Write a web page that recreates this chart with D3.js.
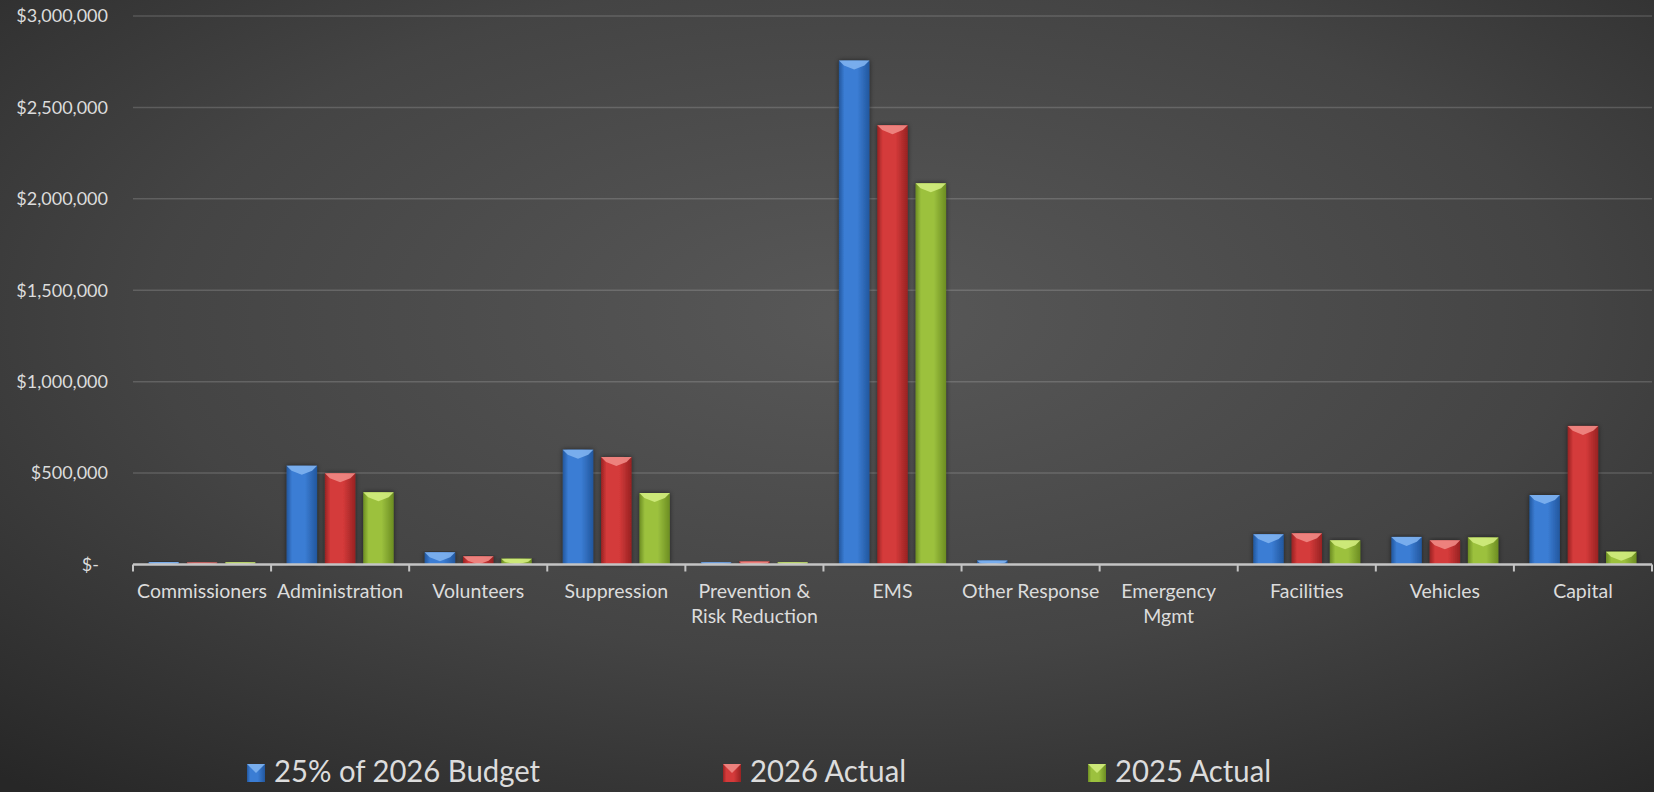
<!DOCTYPE html>
<html>
<head>
<meta charset="utf-8">
<script src="https://cdn.jsdelivr.net/npm/d3@7"></script>
<style>
  html, body { margin: 0; padding: 0; background: #2c2c2c; }
  svg { display: block; }
  text { font-family: Lato, "Open Sans", sans-serif; fill: #dcdcdc; }
</style>
</head>
<body>
<div id="chart"></div>
<script>
// chart data
const categories = ["Commissioners", "Administration", "Volunteers", "Suppression",
  "Prevention &\nRisk Reduction", "EMS", "Other Response", "Emergency\nMgmt",
  "Facilities", "Vehicles", "Capital"];
const seriesNames = ["25% of 2026 Budget", "2026 Actual", "2025 Actual"];
const budget2026 = [13000, 540000, 67000, 628000, 12000, 2756000, 22000, 0, 166000, 151000, 380000];
const actual2026 = [11000, 499000, 45000, 588000, 17000, 2403000, 2000, 0, 171000, 132000, 758000];
const actual2025 = [12000, 395000, 32000, 391000, 12000, 2085000, 0, 0, 132000, 148000, 70000];
const yTicks = [0, 500000, 1000000, 1500000, 2000000, 2500000, 3000000];

const seriesValues = [budget2026, actual2026, actual2025];
const colors = [
  {base: "#3b7dd4", light: "#7fb3f0", dark: "#22579e"},
  {base: "#d43a3a", light: "#f08a85", dark: "#982222"},
  {base: "#9cc13e", light: "#d2ec7e", dark: "#6c8d22"}
];

const width = 1654, height = 792;
const plot = {left: 133, right: 1652, top: 16, bottom: 564.5};

const svg = d3.select("#chart").append("svg")
  .attr("width", width)
  .attr("height", height);

const defs = svg.append("defs");

// background: radial glow in the middle, dark edges
const bg = defs.append("radialGradient")
  .attr("id", "bg")
  .attr("cx", "52%").attr("cy", "40%").attr("r", "78%")
  .attr("gradientUnits", "objectBoundingBox");
bg.append("stop").attr("offset", "0%").attr("stop-color", "#585858");
bg.append("stop").attr("offset", "55%").attr("stop-color", "#444444");
bg.append("stop").attr("offset", "100%").attr("stop-color", "#272727");

svg.append("rect")
  .attr("width", width).attr("height", height)
  .attr("fill", "url(#bg)");

// horizontal shading for each bar colour
colors.forEach((c, i) => {
  const g = defs.append("linearGradient")
    .attr("id", "bar" + i)
    .attr("x1", "0%").attr("x2", "100%").attr("y1", "0%").attr("y2", "0%");
  g.append("stop").attr("offset", "0%").attr("stop-color", c.dark);
  g.append("stop").attr("offset", "18%").attr("stop-color", c.base);
  g.append("stop").attr("offset", "60%").attr("stop-color", c.base);
  g.append("stop").attr("offset", "100%").attr("stop-color", c.dark);
});

const shadow = defs.append("filter").attr("id", "shadow")
  .attr("x", "-30%").attr("y", "-10%").attr("width", "160%").attr("height", "120%");
shadow.append("feDropShadow")
  .attr("dx", 0).attr("dy", 0).attr("stdDeviation", 2.5)
  .attr("flood-color", "#000").attr("flood-opacity", 0.55);

// scales
const x0 = d3.scaleBand()
  .domain(categories)
  .range([plot.left, plot.right])
  .paddingInner(0).paddingOuter(0);

const x1 = d3.scaleBand()
  .domain(seriesNames)
  .range([15.5, x0.bandwidth() - 15.5])
  .paddingInner(0.204);

const y = d3.scaleLinear()
  .domain([0, 3000000])
  .range([plot.bottom, plot.top]);

// gridlines
svg.append("g")
  .selectAll("line")
  .data(yTicks.filter(d => d > 0))
  .join("line")
  .attr("x1", plot.left).attr("x2", plot.right)
  .attr("y1", d => y(d)).attr("y2", d => y(d))
  .attr("stroke", "#ffffff").attr("stroke-opacity", 0.16)
  .attr("stroke-width", 1.5);

// y axis labels (no axis line in the picture)
const yAxis = svg.append("g")
  .attr("transform", `translate(${plot.left},0)`)
  .call(d3.axisLeft(y).tickValues(yTicks).tickSize(0).tickPadding(25)
    .tickFormat(d => d === 0 ? "$-" : "$" + d3.format(",")(d)));
yAxis.select(".domain").remove();
yAxis.selectAll("text")
  .attr("font-size", 18)
  .attr("font-family", "Lato, sans-serif")
  .attr("fill", "#dcdcdc")
  .attr("x", d => d === 0 ? -34 : -25);

// bars
const groups = svg.append("g")
  .selectAll("g")
  .data(categories)
  .join("g")
  .attr("transform", d => `translate(${x0(d)},0)`);

const barData = (cat, ci) => seriesNames.map((s, si) => ({
  series: s, si: si, value: seriesValues[si][ci]
}));

const bars = groups.selectAll(".bar")
  .data((d, ci) => barData(d, ci).filter(b => b.value > 0))
  .join("g")
  .attr("class", "bar")
  .attr("filter", "url(#shadow)");

bars.append("rect")
  .attr("x", d => x1(d.series))
  .attr("y", d => y(d.value))
  .attr("width", x1.bandwidth())
  .attr("height", d => y(0) - y(d.value))
  .attr("fill", d => `url(#bar${d.si})`);

// bevel on the top of each bar: light chevron
bars.append("polygon")
  .attr("points", d => {
    const bx = x1(d.series), bw = x1.bandwidth(), by = y(d.value);
    const h = Math.min(9, y(0) - by);
    const inset = Math.min(5, h * 0.6);
    return [
      [bx, by], [bx + bw, by], [bx + bw - inset, by + h * 0.55],
      [bx + bw / 2, by + h], [bx + inset, by + h * 0.55]
    ].map(p => p.join(",")).join(" ");
  })
  .attr("fill", d => colors[d.si].light)
  .attr("fill-opacity", 0.9);

// x axis line and tick marks at band edges
const xAxisG = svg.append("g");
xAxisG.append("line")
  .attr("x1", plot.left).attr("x2", plot.right)
  .attr("y1", y(0)).attr("y2", y(0))
  .attr("stroke", "#c4c4c4").attr("stroke-width", 2.5);
xAxisG.selectAll(".tick")
  .data(d3.range(categories.length + 1))
  .join("line")
  .attr("class", "tick")
  .attr("x1", i => plot.left + i * x0.step())
  .attr("x2", i => plot.left + i * x0.step())
  .attr("y1", y(0)).attr("y2", y(0) + 7)
  .attr("stroke", "#c4c4c4").attr("stroke-width", 2);

// category labels, split on new lines
const catLabels = svg.append("g")
  .selectAll("text")
  .data(categories)
  .join("text")
  .attr("x", d => x0(d) + x0.bandwidth() / 2)
  .attr("y", 598)
  .attr("text-anchor", "middle")
  .attr("font-size", 19.5);
catLabels.selectAll("tspan")
  .data(d => d.split("\n"))
  .join("tspan")
  .attr("x", function () { return d3.select(this.parentNode).attr("x"); })
  .attr("dy", (d, i) => i === 0 ? 0 : 25)
  .text(d => d);

// legend
const legendX = [247, 723, 1088];
const legend = svg.append("g")
  .selectAll("g")
  .data(seriesNames)
  .join("g")
  .attr("transform", (d, i) => `translate(${legendX[i]},764)`);

legend.append("rect")
  .attr("width", 18).attr("height", 18)
  .attr("fill", (d, i) => `url(#bar${i})`);
legend.append("polygon")
  .attr("points", "0,0 18,0 9,9")
  .attr("fill", (d, i) => colors[i].light)
  .attr("fill-opacity", 0.9);
// Lato runs wider than the original font, so squeeze the legend text a bit
legend.append("text")
  .attr("transform", "translate(27,18) scale(0.945,1)")
  .attr("font-size", 31)
  .text(d => d);
</script>
</body>
</html>
